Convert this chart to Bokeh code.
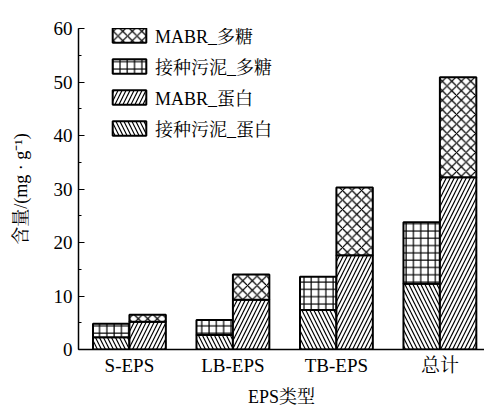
from bokeh.plotting import figure
from bokeh.models import Range1d, SingleIntervalTicker, FixedTicker, Legend, LegendItem, ColumnDataSource
from bokeh.embed import file_html
from bokeh.resources import INLINE

categories = ["S-EPS", "LB-EPS", "TB-EPS", "总计"]
inoc_protein = [2.3, 2.7, 7.4, 12.3]
inoc_poly = [2.5, 2.8, 6.2, 11.5]
mabr_protein = [5.2, 9.3, 17.6, 32.2]
mabr_poly = [1.3, 4.7, 12.7, 18.7]

FONT = "'Liberation Serif', 'Noto Serif CJK SC', 'Noto Sans CJK SC', serif"

xs = [1, 2, 3, 4]
bw = 0.352
x_in = [x - bw / 2 for x in xs]
x_mb = [x + bw / 2 for x in xs]

p = figure(width=484, height=409, output_backend="svg", toolbar_location=None,
           x_range=Range1d(0.508, 4.431), y_range=Range1d(0, 60),
           min_border_left=78, min_border_right=0, min_border_top=28, min_border_bottom=56)
p.outline_line_color = None
p.grid.visible = False
p.background_fill_color = "white"

src = ColumnDataSource(dict(
    x_in=x_in, x_mb=x_mb,
    ip_b=[0] * 4, ip_t=inoc_protein,
    iq_b=inoc_protein, iq_t=[a + b for a, b in zip(inoc_protein, inoc_poly)],
    mp_b=[0] * 4, mp_t=mabr_protein,
    mq_b=mabr_protein, mq_t=[a + b for a, b in zip(mabr_protein, mabr_poly)],
))

common = dict(width=bw, fill_color="white", line_color="black", line_width=2,
              hatch_color="black", hatch_weight=1.2, source=src)
r_ip = p.vbar(x="x_in", bottom="ip_b", top="ip_t", hatch_pattern="left_diagonal_line", hatch_scale=8, **common)
r_iq = p.vbar(x="x_in", bottom="iq_b", top="iq_t", hatch_pattern="cross", hatch_scale=7.3, **common)
r_mp = p.vbar(x="x_mb", bottom="mp_b", top="mp_t", hatch_pattern="right_diagonal_line", hatch_scale=8, **common)
r_mq = p.vbar(x="x_mb", bottom="mq_b", top="mq_t", hatch_pattern="diagonal_cross", hatch_scale=9.5, **common)

legend = Legend(items=[
    LegendItem(label="MABR_多糖", renderers=[r_mq]),
    LegendItem(label="接种污泥_多糖", renderers=[r_iq]),
    LegendItem(label="MABR_蛋白", renderers=[r_mp]),
    LegendItem(label="接种污泥_蛋白", renderers=[r_ip]),
], location=(30, 208))
legend.glyph_width = 42
legend.glyph_height = 18
legend.label_height = 20
legend.spacing = 5
legend.padding = 0
legend.margin = 0
legend.label_standoff = 5
legend.label_text_font = FONT
legend.label_text_font_size = "18px"
legend.label_text_color = "black"
legend.border_line_color = None
legend.background_fill_alpha = 0
p.add_layout(legend)

# y axis
ya = p.yaxis[0]
ya.ticker = SingleIntervalTicker(interval=10, num_minor_ticks=2)
ya.axis_line_color = "black"
ya.axis_line_width = 1.5
ya.major_tick_in = 6
ya.major_tick_out = 0
ya.minor_tick_in = 3
ya.minor_tick_out = 0
ya.major_tick_line_color = "black"
ya.minor_tick_line_color = "black"
ya.major_label_text_font = FONT
ya.major_label_text_font_size = "19px"
ya.major_label_text_color = "black"
ya.major_label_standoff = 6
ya.axis_label = "含量/(mg · g⁻¹)"
ya.axis_label_text_font = FONT
ya.axis_label_text_font_size = "18px"
ya.axis_label_text_font_style = "normal"
ya.axis_label_text_color = "black"
ya.axis_label_standoff = 20

# x axis
xa = p.xaxis[0]
xa.ticker = FixedTicker(ticks=xs)
xa.major_label_overrides = {x: c for x, c in zip(xs, categories)}
xa.axis_line_color = "black"
xa.axis_line_width = 1.5
xa.major_tick_in = 0
xa.major_tick_out = 0
xa.minor_tick_line_color = None
xa.major_label_text_font = FONT
xa.major_label_text_font_size = "19px"
xa.major_label_text_color = "black"
xa.major_label_standoff = 5
xa.axis_label = "EPS类型"
xa.axis_label_text_font = FONT
xa.axis_label_text_font_size = "18px"
xa.axis_label_text_font_style = "normal"
xa.axis_label_text_color = "black"
xa.axis_label_standoff = 8

open("out.html", "w").write(file_html(p, INLINE))
